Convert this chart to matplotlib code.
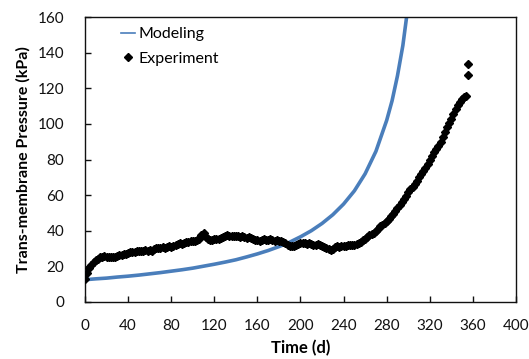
import matplotlib
matplotlib.use("Agg")
import matplotlib.pyplot as plt
from matplotlib.lines import Line2D

# Modeling curve
model_t = [0, 10, 20, 30, 40, 50, 60, 70, 80, 90, 100, 110, 120, 130, 140, 150,
           160, 170, 180, 190, 200, 210, 220, 230, 240, 250, 260, 270, 280, 285,
           290, 295, 300]
model_p = [12.5, 13.0, 13.4, 14.0, 14.5, 15.1, 15.8, 16.5, 17.3, 18.1, 19.0, 20.1,
           21.2, 22.4, 23.7, 25.3, 27.0, 28.9, 31.1, 33.6, 36.6, 40.0, 44.1, 49.0,
           55.0, 62.4, 72.0, 84.6, 102.0, 113.0, 127.0, 144.0, 167.0]

# Experimental points, one every 2 days
exp_t = list(range(0, 356, 2))
exp_p = [13.0, 16.0, 19.0, 21.0, 22.5, 23.5, 24.3, 25.0, 25.4, 25.8,
         25.5, 25.2, 25.0, 25.3, 25.0, 25.8, 26.3, 26.6, 27.2, 27.0,
         27.6, 27.8, 28.3, 28.0, 28.7, 28.5, 28.9, 28.6, 29.0, 28.8,
         29.2, 28.7, 29.5, 30.1, 30.4, 30.2, 30.8, 30.5, 31.0, 31.3,
         31.0, 31.6, 32.0, 32.6, 32.9, 32.3, 33.2, 33.6, 33.9, 34.2,
         34.0, 34.5, 34.8, 35.6, 37.8, 38.5, 36.5, 35.2, 34.6, 35.0,
         35.3, 35.6, 35.4, 36.0, 36.4, 37.0, 37.6, 37.2, 36.8, 37.3,
         36.9, 37.0, 36.6, 36.9, 36.4, 36.0, 36.3, 35.8, 35.2, 35.0,
         34.6, 34.3, 34.8, 35.1, 34.7, 34.9, 35.2, 34.8, 34.5, 34.9,
         34.4, 34.0, 33.6, 33.0, 32.0, 31.4, 31.2, 31.6, 32.2, 32.8,
         33.0, 33.4, 33.0, 32.6, 33.1, 32.8, 32.2, 31.8, 32.3, 32.0,
         31.4, 30.8, 30.2, 29.6, 29.4, 30.0, 30.6, 31.2, 31.0, 31.5,
         31.2, 31.6, 32.0, 31.8, 32.2, 32.0, 32.6, 33.4, 33.9, 34.6,
         35.2, 36.3, 37.4, 38.2, 39.0, 40.0, 41.2, 42.4, 43.5, 44.6,
         45.5, 46.6, 48.0, 49.4, 51.0, 52.8, 54.5, 56.2, 58.0, 59.6,
         61.5, 63.2, 64.8, 66.0, 68.0, 70.2, 72.0, 73.6, 75.5, 77.4,
         79.8, 82.0, 84.0, 85.8, 87.6, 90.0, 92.6, 95.2, 98.0, 100.5,
         103.0, 105.5, 108.2, 110.8, 112.5, 114.0, 115.0, 115.6]
# two isolated points at the end
out_t = [355, 355]
out_p = [133.5, 127.5]

blue = "#4a7ebb"

plt.rcParams['font.family'] = ['Lato', 'DejaVu Sans']

fig = plt.figure(figsize=(5.29, 3.59), dpi=100)
ax = fig.add_axes([0.1607, 0.1588, 0.8147, 0.7938])

ax.plot(exp_t, exp_p, linestyle='none', marker='D', markersize=3.9,
        color='black', zorder=3)
ax.plot(out_t, out_p, linestyle='none', marker='D', markersize=3.9,
        color='black', zorder=3)
ax.plot(model_t, model_p, color=blue, linewidth=2.6, zorder=2)

ax.set_xlim(0, 400)
ax.set_ylim(0, 160)
ax.set_xticks(range(0, 401, 40))
ax.set_yticks(range(0, 161, 20))
ax.tick_params(axis='both', direction='in', length=4, width=1,
               labelsize=11, colors='#111111')
ax.tick_params(axis='y', pad=15)
ax.tick_params(axis='x', pad=12)
for s in ax.spines.values():
    s.set_linewidth(1.0)
    s.set_color('#111111')

ax.set_xlabel('Time (d)', fontsize=12, fontweight='bold', labelpad=5)
ax.set_ylabel('Trans-membrane Pressure (kPa)', fontsize=11.5,
              fontweight='bold', labelpad=5)

handles = [Line2D([], [], color=blue, linewidth=1.2),
           Line2D([], [], color='black', marker='D', markersize=3.6,
                  linestyle='none')]
ax.legend(handles, ['Modeling', 'Experiment'], loc='upper left',
          bbox_to_anchor=(0.05, 1.015), frameon=False, fontsize=11.5,
          handlelength=0.9, handletextpad=0.2, labelspacing=0.65)

fig.savefig('out.png', dpi=100)
